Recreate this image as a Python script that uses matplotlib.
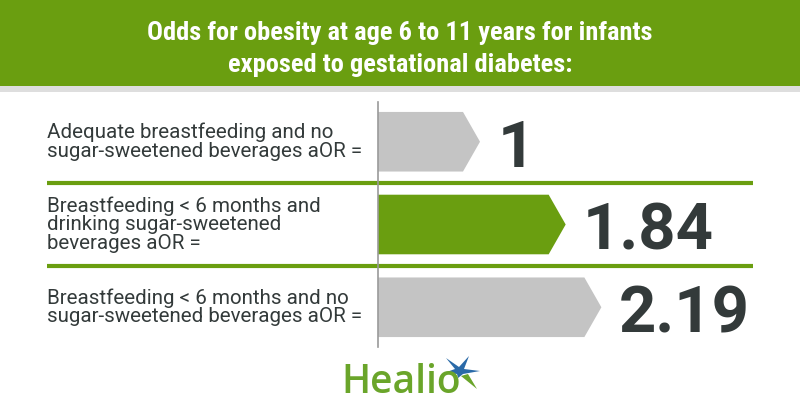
import matplotlib
matplotlib.use("Agg")
import matplotlib.pyplot as plt
from matplotlib.patches import Rectangle, Polygon
from matplotlib.transforms import blended_transform_factory

# data
labels = [
    "Adequate breastfeeding and no\nsugar-sweetened beverages aOR =",
    "Breastfeeding < 6 months and\ndrinking sugar-sweetened\nbeverages aOR =",
    "Breastfeeding < 6 months and no\nsugar-sweetened beverages aOR =",
]
values = [1, 1.84, 2.19]
value_text = ["1", "1.84", "2.19"]
bar_colors = ["#c4c4c4", "#6a9e10", "#c4c4c4"]
title = "Odds for obesity at age 6 to 11 years for infants\nexposed to gestational diabetes:"

GREEN = "#6a9e10"
DARK = "#333a3a"

fig = plt.figure(figsize=(8, 4.2), dpi=100)

# background layer in pixel coords
bg = fig.add_axes([0, 0, 1, 1])
bg.set_xlim(0, 800)
bg.set_ylim(420, 0)
bg.axis("off")
bg.add_patch(Rectangle((0, 0), 800, 86, color=GREEN, lw=0))
bg.add_patch(Rectangle((0, 86), 800, 6, color="#dedede", lw=0))
bg.text(400, 49, title, ha="center", va="center", color="white",
        fontsize=19, fontweight="bold", linespacing=1.45,
        family="Roboto Condensed")

# logo
bg.text(341, 393, "Healio", ha="left", va="baseline", color="#6aa52a",
        fontsize=28, fontweight="semibold", family="Open Sans")
bg.add_patch(Polygon([(446, 358), (459, 367), (469, 356), (464, 369),
                      (480, 371), (463, 374), (458, 378), (457, 374),
                      (444, 373), (455, 369)], color="#2a6aa8", lw=0))
bg.add_patch(Polygon([(461, 376), (468, 374), (477, 389)], color="#6aa52a", lw=0))

# bars
ax = fig.add_axes([378 / 800, (420 - 347) / 420, 400 / 800, 245 / 420])
ax.set_xlim(0, 400 / 102)
ax.set_ylim(2.48, -0.48)
for s in ["top", "right", "bottom"]:
    ax.spines[s].set_visible(False)
ax.spines["left"].set_color("#9a9a9a")
ax.spines["left"].set_linewidth(1.2)
ax.set_xticks([])
ax.set_yticks([])
ax.patch.set_alpha(0)

tip = 17 / 102
half = 0.36
for i, (v, c) in enumerate(zip(values, bar_colors)):
    pts = [(0, i - half), (v - tip, i - half), (v, i), (v - tip, i + half), (0, i + half)]
    ax.add_patch(Polygon(pts, closed=True, color=c, lw=0))
    ax.text(v + 0.17, i + 0.30, value_text[i], ha="left", va="baseline",
            color=DARK, fontsize=47, fontweight="bold", family="Roboto")

trans = blended_transform_factory(fig.transFigure, ax.transData)
for k in range(len(values) - 1):
    ax.plot([47 / 800, 753 / 800], [k + 0.5, k + 0.5], transform=trans,
            color=GREEN, lw=3, clip_on=False, solid_capstyle="butt")
for i, lab in enumerate(labels):
    ax.text(47 / 800, i, lab, transform=trans, ha="left", va="center",
            color=DARK, fontsize=14.8, family="Roboto", linespacing=0.95)

fig.savefig("out.png", dpi=100)
